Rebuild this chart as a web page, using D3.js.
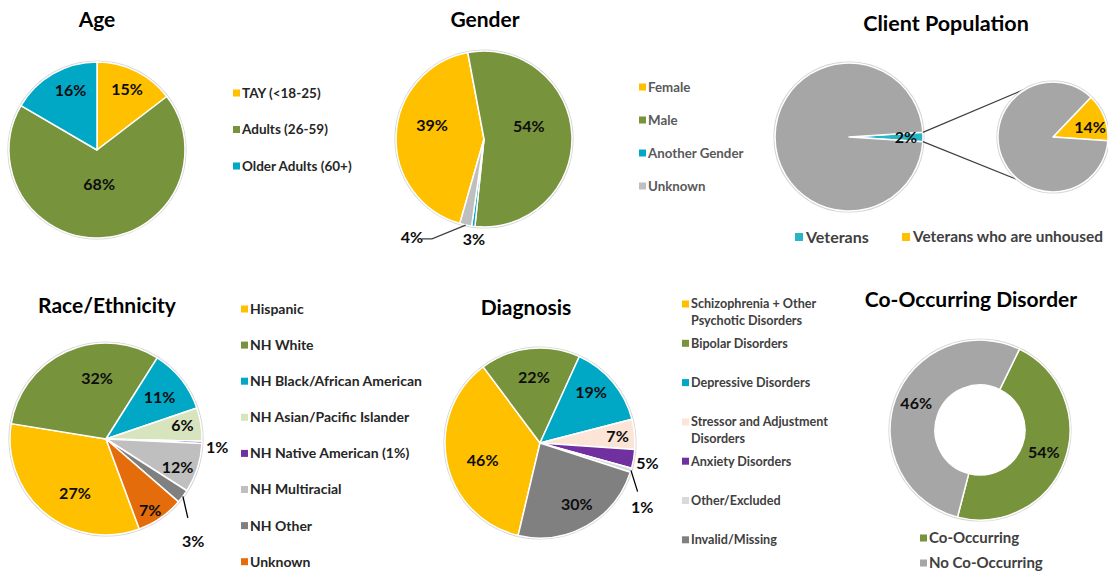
<!DOCTYPE html>
<html><head><meta charset="utf-8">
<script src="https://cdn.jsdelivr.net/npm/d3@7/dist/d3.min.js"></script>
<style>
html,body{margin:0;padding:0;background:#fff;}
svg{display:block;font-family:Lato,"Open Sans",sans-serif;font-weight:700;}
</style></head>
<body>
<svg id="chart" width="1108" height="571"></svg>
<script>
// ---------- DATA ----------
const ageCats = ["TAY (<18-25)", "Adults (26-59)", "Older Adults (60+)"];
const ageShares = [14.6, 68.8, 16.6];
const ageLabels = ["15%", "68%", "16%"];

const genderCats = ["Female", "Male", "Another Gender", "Unknown"];
const genderShares = [42.6, 54.6, 0.6, 2.2];
const genderLabels = ["39%", "54%", "3%", "4%"];

const clientCats = ["Veterans", "Non-Veterans"];
const clientShares = [2, 98];
const clientLabels = ["2%", ""];
const vetCats = ["Veterans who are unhoused", "Veterans housed"];
const vetShares = [14, 86];
const vetLabels = ["14%", ""];
const clientLegend = ["Veterans", "Veterans who are unhoused"];

const raceCats = ["Hispanic", "NH White", "NH Black/African American", "NH Asian/Pacific Islander",
  "NH Native American (1%)", "NH Multiracial", "NH Other", "Unknown"];
const raceShares = [33.2, 31.4, 10.8, 5.6, 0.4, 8.3, 2.3, 8.0];
const raceLabels = ["27%", "32%", "11%", "6%", "1%", "12%", "3%", "7%"];

const diagCats = [["Schizophrenia + Other", "Psychotic Disorders"], ["Bipolar Disorders"], ["Depressive Disorders"],
  ["Stressor and Adjustment", "Disorders"], ["Anxiety Disorders"], ["Other/Excluded"], ["Invalid/Missing"]];
const diagShares = [36.1, 17.0, 14.2, 5.1, 3.2, 0.7, 23.7];
const diagLabels = ["46%", "22%", "19%", "7%", "5%", "1%", "30%"];

const coCats = ["Co-Occurring", "No Co-Occurring"];
const coShares = [46.8, 53.2];
const coLabels = ["54%", "46%"];

// ---------- STYLE ----------
const YEL = "#FFC000", GRN = "#77933C", CYA = "#00A8C6", GRY = "#A6A6A6";
const svg = d3.select("#chart");
const rad = d => d * Math.PI / 180;

function drawPie(o) {
  const g = svg.append("g").attr("transform", `translate(${o.cx},${o.cy})`);
  const pie = d3.pie().sort(null).value(d => d)
    .startAngle(rad(o.start)).endAngle(rad(o.start) + 2 * Math.PI);
  const arcs = pie(o.values);
  const arc = d3.arc().innerRadius(o.ir || 0).outerRadius(o.r);
  g.append("circle").attr("r", o.r + 0.8).attr("fill", "none").attr("stroke", "#d4d4d4").attr("stroke-width", 1.6);
  g.selectAll("path.sl").data(arcs).join("path").attr("class", "sl")
    .attr("d", arc).attr("fill", (d, i) => o.colors[i])
    .attr("stroke", "#fff").attr("stroke-width", 1.5).attr("stroke-linejoin", "round");
  arcs.forEach((a, i) => {
    const txt = o.labels[i];
    if (!txt) return;
    const p = (o.place && o.place[i]) || [0, 0.75];
    const mid = (a.startAngle + a.endAngle) / 2;
    const ang = mid + rad(p[0]);
    const lx = Math.sin(ang) * p[1] * o.r, ly = -Math.cos(ang) * p[1] * o.r;
    if (p[2] === "line") {
      const ex = Math.sin(mid) * o.r, ey = -Math.cos(mid) * o.r;
      const dx = lx - ex, dy = ly - ey, L = Math.hypot(dx, dy);
      const k = (L - p[3]) / L;
      g.append("line").attr("x1", ex).attr("y1", ey).attr("x2", ex + dx * k).attr("y2", ey + dy * k)
        .attr("stroke", "#000").attr("stroke-width", 1.3);
    } else if (p[2] === "elbow") {
      const ex = Math.sin(mid) * o.r, ey = -Math.cos(mid) * o.r;
      g.append("polyline").attr("points", `${ex},${ey} ${lx + 20},${ly + 2} ${lx + 10},${ly + 2}`)
        .attr("fill", "none").attr("stroke", "#404040").attr("stroke-width", 1.3);
    }
    g.append("text").attr("x", lx).attr("y", ly).attr("dy", "0.36em")
      .attr("text-anchor", "middle").attr("font-size", o.fs || 16).attr("fill", "#0d0d0d").text(txt);
  });
  return { g, arcs };
}

function title(x, y, t, fs) {
  svg.append("text").attr("x", x).attr("y", y).attr("text-anchor", "middle")
    .attr("font-size", fs || 21).attr("fill", "#000").text(t);
}

function legend(x, y, step, items, colors, fs, col, lineGap) {
  items.forEach((it, i) => {
    const lines = Array.isArray(it) ? it : [it];
    const yy = y + i * step;
    svg.append("rect").attr("x", x).attr("y", yy - 3.5).attr("width", 7).attr("height", 7).attr("fill", colors[i]);
    lines.forEach((ln, j) => {
      svg.append("text").attr("x", x + 9).attr("y", yy + j * (lineGap || 16)).attr("dy", "0.35em")
        .attr("font-size", fs).attr("fill", col).text(ln);
    });
  });
}

// ---------- AGE ----------
title(97, 27, "Age");
drawPie({ cx: 97, cy: 150, r: 88, values: ageShares, labels: ageLabels, colors: [YEL, GRN, CYA],
  start: 0, place: [[0, 0.77], [0, 0.39], [6, 0.74]] });
legend(233, 93, 36.5, ageCats, [YEL, GRN, CYA], 13.5, "#262626");

// ---------- GENDER ----------
title(485, 27, "Gender");
drawPie({ cx: 484, cy: 139, r: 88, values: genderShares, labels: genderLabels,
  colors: [YEL, GRN, CYA, "#BFBFBF"], start: 196,
  place: [[12.3, 0.61], [-13.8, 0.53], [-1.3, 1.14], [24.3, 1.38, "elbow"]] });
legend(639, 87, 33, genderCats, [YEL, GRN, CYA, "#BFBFBF"], 13.3, "#595959");

// ---------- CLIENT POPULATION ----------
title(946, 31, "Client Population", 21.5);
const CCY = "#29B6C4";
const big = drawPie({ cx: 849, cy: 137, r: 74, values: clientShares, labels: clientLabels,
  colors: [CCY, GRY], start: 86.4, place: [[0, 0.77]] });
const small = { cx: 1053, cy: 137, r: 55 };
{
  const a = big.arcs[0];
  const p1 = [849 + Math.sin(a.startAngle) * 74, 137 - Math.cos(a.startAngle) * 74];
  const p2 = [849 + Math.sin(a.endAngle) * 74, 137 - Math.cos(a.endAngle) * 74];
  const q1 = [small.cx + Math.sin(rad(334)) * small.r, small.cy - Math.cos(rad(334)) * small.r];
  const q2 = [small.cx + Math.sin(rad(218)) * small.r, small.cy - Math.cos(rad(218)) * small.r];
  svg.append("line").attr("x1", p1[0]).attr("y1", p1[1]).attr("x2", q1[0]).attr("y2", q1[1]).attr("stroke", "#404040").attr("stroke-width", 1.2);
  svg.append("line").attr("x1", p2[0]).attr("y1", p2[1]).attr("x2", q2[0]).attr("y2", q2[1]).attr("stroke", "#404040").attr("stroke-width", 1.2);
}
drawPie({ cx: small.cx, cy: small.cy, r: small.r, values: vetShares, labels: vetLabels,
  colors: [YEL, GRY], start: 43.6, place: [[6, 0.70]] });
{
  const items = clientLegend, cols = [CCY, YEL], xs = [795, 902], fsz = [16, 15.4];
  items.forEach((t, i) => {
    svg.append("rect").attr("x", xs[i]).attr("y", 233).attr("width", 8).attr("height", 8).attr("fill", cols[i]);
    svg.append("text").attr("x", xs[i] + 11).attr("y", 237).attr("dy", "0.35em").attr("font-size", fsz[i])
      .attr("fill", "#404040").text(t);
  });
}

// ---------- RACE / ETHNICITY ----------
title(107, 313, "Race/Ethnicity");
const raceCols = [YEL, GRN, CYA, "#D7E4BD", "#7030A0", "#BFBFBF", "#808080", "#E46C0A"];
drawPie({ cx: 106, cy: 439, r: 96, values: raceShares, labels: raceLabels, colors: raceCols, start: 159.7,
  place: [[-9.6, 0.65], [15.8, 0.64], [0, 0.71], [-1.7, 0.81], [2, 1.16], [3.6, 0.80], [12.8, 1.40, "line", 24], [2.7, 0.87]] });
legend(241, 309, 36.1, raceCats, raceCols, 14, "#262626");

// ---------- DIAGNOSIS ----------
title(526, 315, "Diagnosis");
const diagCols = [YEL, GRN, CYA, "#FCE4D6", "#7030A0", "#D9D9D9", "#808080"];
drawPie({ cx: 540, cy: 443, r: 95, values: diagShares, labels: diagLabels, colors: diagCols, start: 193.3,
  place: [[-4.9, 0.63], [0.9, 0.70], [-5, 0.76], [0, 0.82], [0.9, 1.15], [15.3, 1.27, "line", 16], [-1.8, 0.75]] });
legend(682, 304, 39.3, diagCats, diagCols, 12.6, "#404040", 16.5);

// ---------- CO-OCCURRING ----------
title(971, 307, "Co-Occurring Disorder");
drawPie({ cx: 980, cy: 430, r: 90, ir: 45, values: coShares, labels: coLabels, colors: [GRN, GRY], start: 26,
  place: [[-1.2, 0.75], [2.7, 0.77]] });
legend(920, 538, 25, coCats, [GRN, GRY], 15, "#404040");
</script>
</body></html>
